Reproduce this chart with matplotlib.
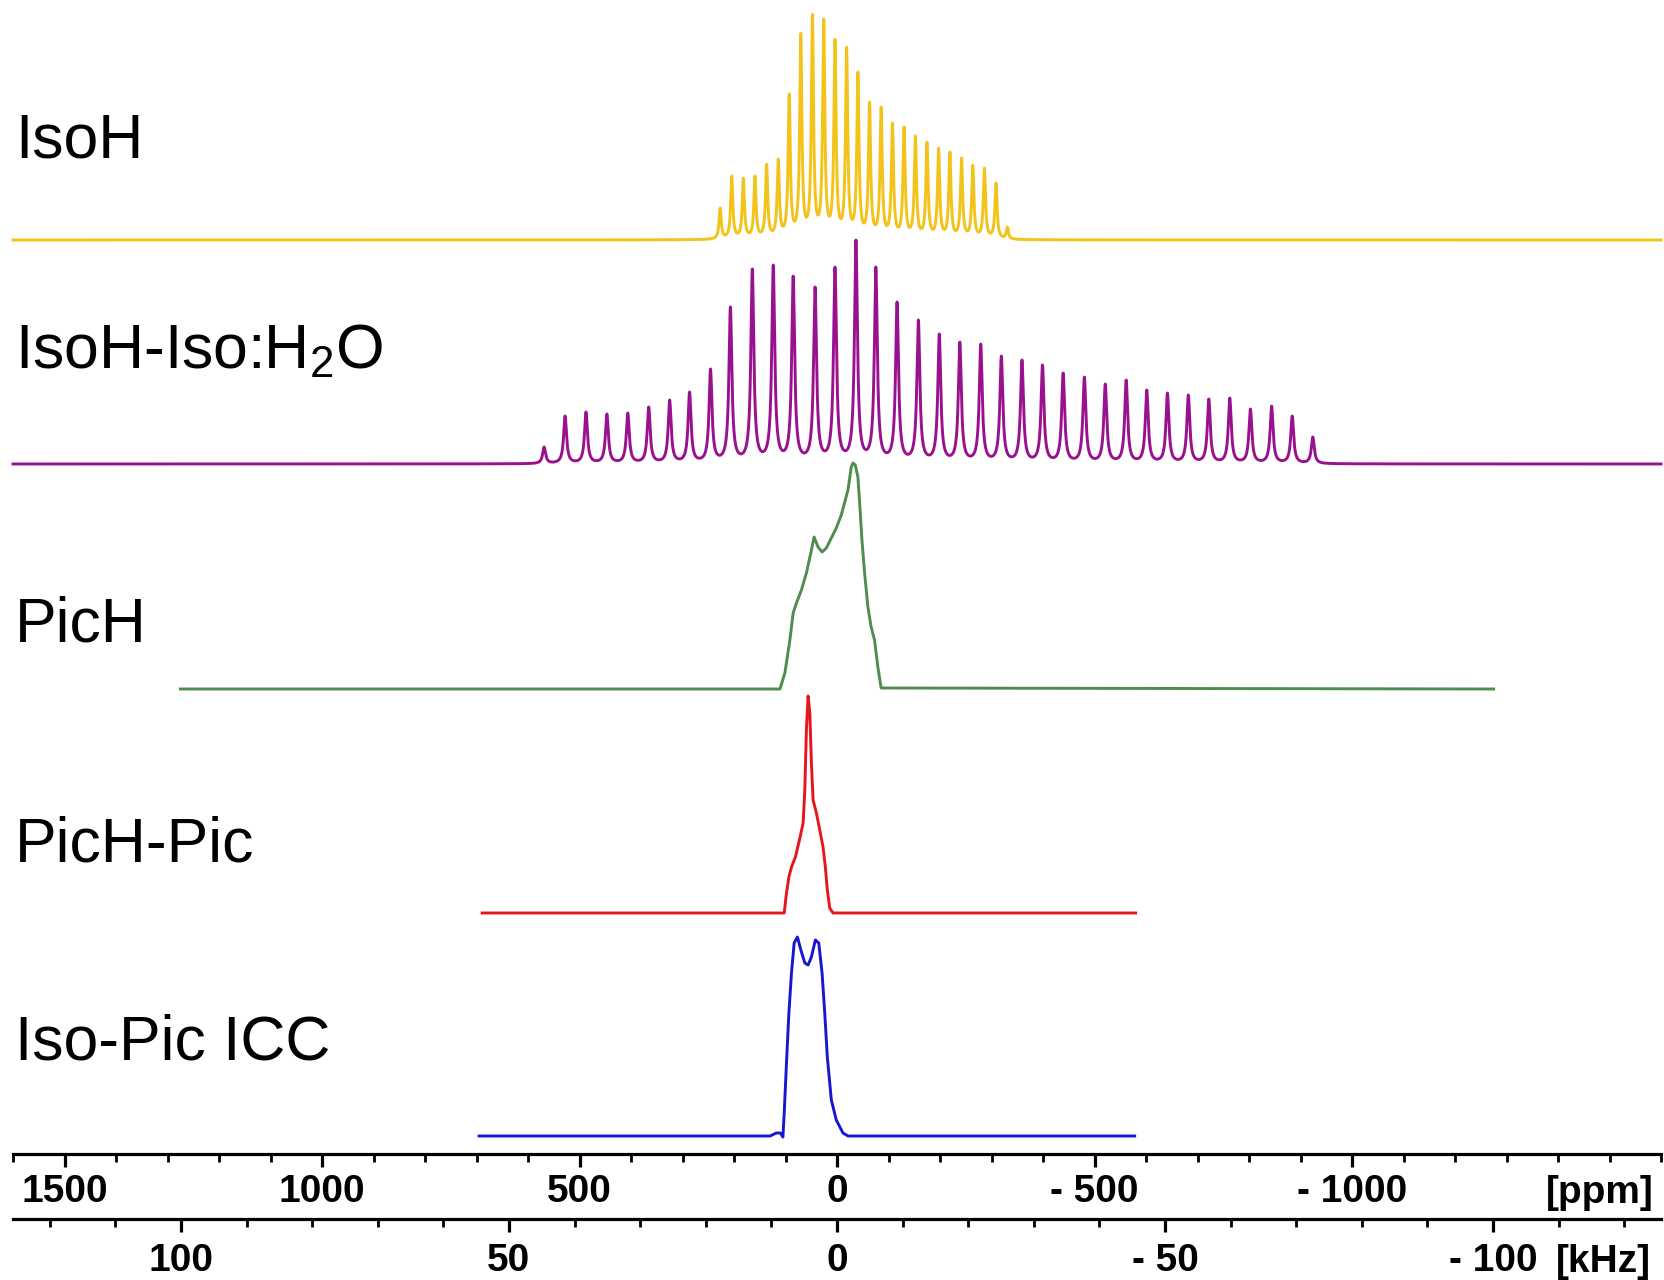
import matplotlib
matplotlib.use("Agg")
import matplotlib.pyplot as plt
from matplotlib.ticker import FixedLocator, MultipleLocator, FuncFormatter
import numpy as np

plt.rcParams['font.family'] = ['Liberation Sans', 'DejaVu Sans']
plt.rcParams['font.weight'] = 'bold'
plt.rcParams['mathtext.fontset'] = 'custom'
plt.rcParams['mathtext.rm'] = 'Liberation Sans'
plt.rcParams['mathtext.default'] = 'regular'

W, H = 1664, 1280
PPM_PER_KHZ = 12.74   # 2H Larmor ~78.5 MHz

names = ["IsoH", "IsoH-Iso:H$_2$O", "PicH", "PicH-Pic", "Iso-Pic ICC"]
colors = ["#F3C31A", "#9A118F", "#4F8C4F", "#E3171D", "#1717CF"]

# MAS sideband manifolds: centre of each sideband (ppm) and apex height
isoh_pos = [226.9, 204.4, 181.8, 159.3, 136.7, 114.1, 92.8, 70.3, 47.7, 25.8,
            3.9, -18.7, -40.6, -63.2, -85.7, -107.7, -130.2, -152.2, -174.7,
            -197.3, -219.2, -241.8, -263.7, -286.3, -308.8, -330.8]
isoh_h = [32, 64, 62, 64, 76, 81, 146, 207, 226, 221, 201, 193, 168, 138,
          133, 117, 113, 104, 98, 92, 88, 82, 75, 72, 57, 13]

isoh_iso_pos = [568.7, 528.0, 487.4, 446.8, 406.2, 365.6, 324.9, 286.3, 245.6,
                207.0, 164.4, 123.8, 85.1, 42.6, 3.9, -36.8, -75.4, -116.6,
                -158.0, -198.6, -238.5, -279.1, -319.1, -359.2, -399.0, -439.1,
                -480.3, -520.9, -561.5, -601.5, -641.6, -682.2, -722.0, -762.7,
                -802.7, -843.9, -883.9, -923.9]
isoh_iso_h = [17, 48, 52, 50, 51, 57, 64, 72, 95, 157, 195, 199, 188, 177, 197,
              224, 197, 162, 144, 130, 122, 120, 108, 104, 99, 91, 87, 80, 84,
              74, 71, 69, 65, 66, 55, 58, 48, 27]

# static spectra
pich_ppm = [1275, 110.8, 101.2, 91.5, 85.1, 78.7, 69.1, 59.4, 50.9, 44.5, 36.8,
            29.0, 20.7, 11.0, 1.4, -8.3, -16.1, -21.3, -27.7, -30.9, -35.4,
            -40.6, -44.5, -48.4, -53.6, -60.0, -66.3, -72.9, -79.3, -85.7, -1275]
pich_h = [0, 0, 16, 49, 76, 86, 99, 116, 136, 152, 142, 137, 141, 151, 161,
          174, 189, 199, 222, 226, 224, 212, 182, 149, 116, 82, 62, 49, 22, 1, 0]

pichpic_ppm = [689, 102.5, 98.1, 93.4, 88.4, 80.7, 72.1, 65.8, 62.5, 59.4, 56.1,
               52.8, 49.7, 46.4, 40.0, 33.5, 27.1, 22.6, 18.8, 14.1, 7.7, -580]
pichpic_h = [0, 0, 20, 36, 46, 56, 75, 90, 123, 183, 217, 200, 150, 113, 100,
             83, 66, 46, 23, 5, 0, 0]

icc_ppm = [695, 130, 118, 110, 105, 102.5, 98.1, 93.4, 88.4, 83.2, 76.8, 70.2,
           62.5, 56.1, 49.7, 42.0, 35.4, 29.0, 23.8, 18.8, 11.0, 1.4, -11.6,
           -21.3, -578]
icc_h = [0, 0, 3, 3, -1, 23, 73, 123, 163, 193, 199, 186, 173, 171, 179, 196,
         193, 163, 123, 79, 36, 16, 3, 0, 0]

ppm_ticks = [1500, 1000, 500, 0, -500, -1000]
khz_ticks = [100, 50, 0, -50, -100]


def sideband_trace(grid, pos, heights, hw):
    """Lorentzian sidebands scaled so each apex reaches its listed height."""
    pos = np.asarray(pos, float)
    lor = lambda d: 1.0 / (1.0 + (d / hw) ** 2)
    amp = np.linalg.solve(lor(pos[:, None] - pos[None, :]), np.asarray(heights, float))
    return (amp[None, :] * lor(grid[:, None] - pos[None, :])).sum(axis=1)


fig = plt.figure(figsize=(W / 100, H / 100), dpi=100)
ax = fig.add_axes([13 / W, 126 / H, 1648 / W, 1154 / H])
ax.set_xlim(1600, -1600)
ax.set_ylim(0, 1154)

grid = np.linspace(1600, -1600, 16001)
offsets = [914, 690, 465, 241, 18]

traces = [
    (grid, sideband_trace(grid, isoh_pos, isoh_h, 2.5)),
    (grid, sideband_trace(grid, isoh_iso_pos, isoh_iso_h, 3.4)),
    (np.array(pich_ppm), np.array(pich_h)),
    (np.array(pichpic_ppm), np.array(pichpic_h)),
    (np.array(icc_ppm), np.array(icc_h)),
]
for (x, y), off, c in zip(traces, offsets, colors):
    ax.plot(x, y + off, color=c, lw=2.1, solid_joinstyle='round', clip_on=False)

label_base = [157, 368, 642, 862, 1059]
for name, b in zip(names, label_base):
    fig.text(15 / W, 1 - b / H, name, fontsize=45, fontweight='normal',
             va='baseline', ha='left')

fmt = FuncFormatter(lambda v, p: f"- {abs(v):g}" if v < 0 else f"{v:g}")

for s in ['top', 'left', 'right']:
    ax.spines[s].set_visible(False)
ax.spines['bottom'].set_linewidth(2.3)
ax.yaxis.set_visible(False)
ax.xaxis.set_major_locator(FixedLocator(ppm_ticks))
ax.xaxis.set_minor_locator(MultipleLocator(100))
ax.xaxis.set_major_formatter(fmt)
ax.tick_params(axis='x', which='major', direction='out', length=9.5, width=2.3,
               labelsize=28, pad=5)
ax.tick_params(axis='x', which='minor', direction='out', length=5.5, width=2.0)

sec = ax.secondary_xaxis(-65 / 1154, functions=(lambda p: p / PPM_PER_KHZ,
                                                lambda k: k * PPM_PER_KHZ))
sec.spines['bottom'].set_linewidth(2.3)
sec.xaxis.set_major_locator(FixedLocator(khz_ticks))
sec.xaxis.set_minor_locator(MultipleLocator(10))
sec.xaxis.set_major_formatter(fmt)
sec.tick_params(axis='x', which='major', direction='out', length=9.5, width=2.3,
                labelsize=28, pad=8)
sec.tick_params(axis='x', which='minor', direction='out', length=5.5, width=2.0)

fig.text(1600 / W, 1 - 1193 / H, "[ppm]", fontsize=28, ha='center', va='center')
fig.text(1603 / W, 1 - 1262 / H, "[kHz]", fontsize=28, ha='center', va='center')

fig.savefig("out.png", dpi=100)
